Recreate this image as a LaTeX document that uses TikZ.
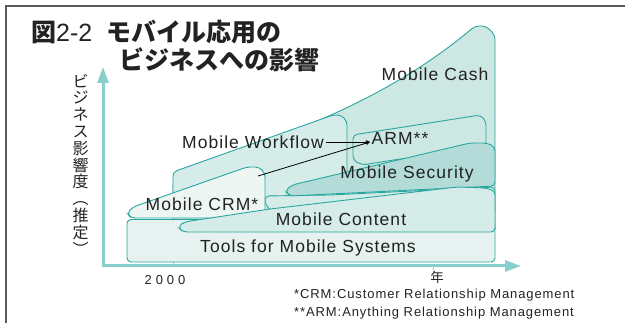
\documentclass[tikz,border=0pt]{standalone}
\usepackage{fontspec}
\usepackage{tikz}
\usetikzlibrary{arrows.meta}
\setmainfont{Liberation Sans}
\newfontfamily\jp{Noto Sans CJK JP}
\newfontfamily\lab{Liberation Sans}[LetterSpace=6]
\newfontfamily\foot{Liberation Sans}[LetterSpace=7]
\newfontfamily\yr{Liberation Sans}[LetterSpace=30]
\definecolor{edge}{HTML}{2AA6A0}
\definecolor{paleA}{HTML}{CDE7E3}
\definecolor{paleB}{HTML}{D6ECE8}
\definecolor{paleC}{HTML}{EEF6F4}
\definecolor{paleD}{HTML}{E5F2EF}
\definecolor{deep}{HTML}{B3DCD8}
\definecolor{axisc}{HTML}{88CFCC}
\definecolor{ink}{HTML}{222222}

\begin{document}
\begin{tikzpicture}[x=1pt,y=-1pt,
  band/.style={draw=edge,line width=0.9pt,rounded corners=4pt},
  lbl/.style={inner sep=1.5pt,text=ink,font=\lab\fontsize{17.5}{20}\selectfont},
  pointer/.style={-stealth,line width=0.8pt,black},
  axis/.style={axisc,line width=3pt,
    {Triangle[length=16pt,width=11pt]}-{Triangle[length=16pt,width=11pt]}},
  tick/.style={axisc,line width=0.8pt},
  frame/.style={draw=black!65,line width=1.2pt}]
\useasboundingbox (0,0) rectangle (625,323);
\draw[frame] (6,323) -- (6,6) -- (625,6);

\node[anchor=west,inner sep=0pt,text=ink,font=\fontsize{25}{28}\selectfont] (title1) at (31,32)
  {{\jp\bfseries 図}2-2\hspace{14pt}{\jp\bfseries モバイル応用の}};
\node[anchor=west,inner sep=0pt,text=ink,font=\jp\bfseries\fontsize{25}{28}\selectfont] (title2) at (119,60)
  {ビジネスへの影響};

\node[align=center,inner sep=0pt,text=ink,font=\jp\fontsize{16}{16.8}\selectfont] (ylab) at (80.5,164.5)
  {ビ\\ジ\\ネ\\ス\\影\\響\\度\\︵\\推\\定\\︶};

\coordinate (ytop) at (103,67);
\coordinate (o) at (103,266);
\coordinate (xend) at (521,266);

\filldraw[band,fill=paleA] (173,180) -- (315,122) .. controls (385,92) and (435,60) .. (475,26)
  -- (486,26) -- (495,35) -- (495,232) -- (173,232) -- cycle;
\filldraw[band,fill=paleB] (260,232) -- (173,232) -- (173,172) -- (333,115) -- (341,115)
  -- (347,121) -- (347,232) -- cycle;
\filldraw[band,fill=paleA] (400,159) -- (362,165) -- (353,160) -- (353,135) -- (480,115)
  -- (486,121) -- (486,152) -- cycle;
\filldraw[band,fill=paleB] (330,195) -- (495,187) -- (495,215) -- (272,212) -- (265,204)
  -- (265,196) -- cycle;
\filldraw[band,fill=deep] (392,191) -- (290,196) -- (285,191) -- (292,185) -- (470,143)
  -- (487,143) -- (495,147) -- (495,186) -- cycle;
\filldraw[band,fill=paleC] (200,218) -- (131,218) -- (127,213) -- (133,207) -- (247,167)
  -- (259,167) -- (265,173) -- (265,218) -- cycle;
\filldraw[band,fill=paleD] (127,219.5) rectangle (495,262);
\filldraw[band,fill=paleB] (300,232) -- (183,232) -- (178,227) -- (184,222) -- (270,209)
  -- (457,187) -- (486,188) -- (495,191) -- (495,232) -- cycle;

\node[lbl] (cash) at (435,74) {Mobile Cash};
\node[lbl] (wf) at (253,142) {Mobile Workflow};
\node[lbl] (arm) at (400,138) {ARM**};
\node[lbl] (sec) at (407,174) {Mobile Security};
\node[lbl] (crm) at (202,204) {Mobile CRM*};
\node[lbl] (cont) at (341,219) {Mobile Content};
\node[lbl] (tools) at (308,248) {Tools for Mobile Systems};

\coordinate (crmend) at (258,176);
\draw[pointer] (wf.east) -- (arm.west |- wf.east);
\draw[pointer] (crmend) -- (arm.west |- wf.east);

\draw[axis] (ytop) -- (o) -- (xend);
\draw[tick] (173,262) -- (173,266);
\draw[tick] (433,267) -- (433,270);

\node[inner sep=0pt,text=ink,font=\yr\fontsize{13}{15}\selectfont] (y2000) at (165,280) {2000};
\node[inner sep=0pt,text=ink,font=\jp\fontsize{13.5}{15}\selectfont] (nen) at (437,277) {年};
\node[anchor=west,inner sep=0pt,text=ink,font=\foot\fontsize{13}{15}\selectfont] (fn1) at (294,295)
  {*CRM:Customer Relationship Management};
\node[anchor=west,inner sep=0pt,text=ink,font=\foot\fontsize{13}{15}\selectfont] (fn2) at (294,313)
  {**ARM:Anything Relationship Management};
\end{tikzpicture}
\end{document}
